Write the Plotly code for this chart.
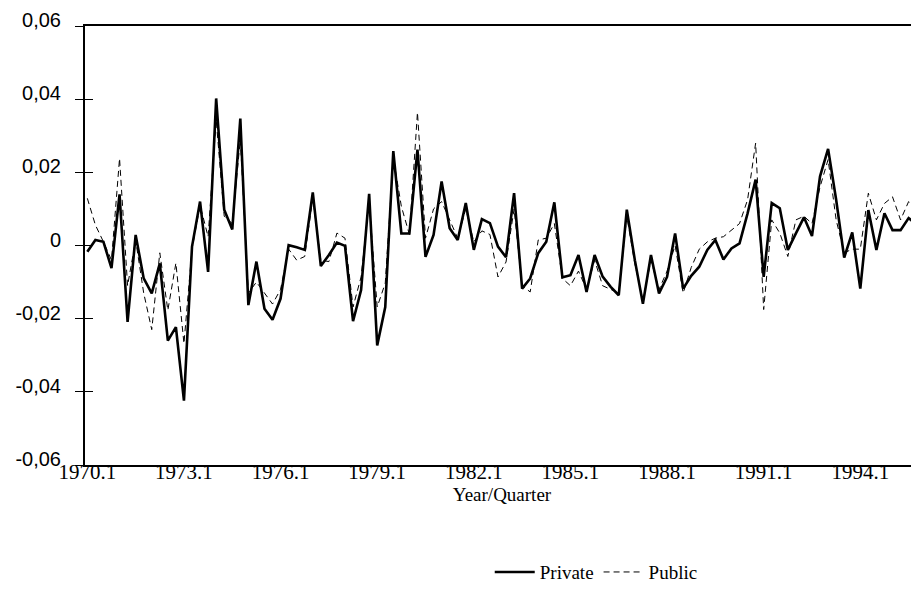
import plotly.graph_objects as go

quarters = list(range(105))  # 0 = 1970.1, quarterly observations

private = [
    -0.0017, 0.0015, 0.0010, -0.0062, 0.0140, -0.0209, 0.0029, -0.0090, -0.0131, -0.0049,
    -0.0260, -0.0223, -0.0424, -0.0003, 0.0120, -0.0072, 0.0402, 0.0098, 0.0044, 0.0347,
    -0.0163, -0.0044, -0.0173, -0.0203, -0.0145, 0.0001, -0.0005, -0.0012, 0.0145, -0.0056,
    -0.0026, 0.0008, -0.0001, -0.0207, -0.0122, 0.0141, -0.0273, -0.0168, 0.0258, 0.0033,
    0.0033, 0.0262, -0.0031, 0.0029, 0.0175, 0.0047, 0.0015, 0.0116, -0.0012, 0.0072,
    0.0061, -0.0003, -0.0032, 0.0143, -0.0118, -0.0090, -0.0021, 0.0010, 0.0118, -0.0087,
    -0.0081, -0.0026, -0.0127, -0.0026, -0.0085, -0.0113, -0.0136, 0.0098, -0.0040, -0.0159,
    -0.0026, -0.0131, -0.0086, 0.0033, -0.0118, -0.0083, -0.0058, -0.0012, 0.0015, -0.0038,
    -0.0008, 0.0006, 0.0088, 0.0180, -0.0086, 0.0116, 0.0102, -0.0012, 0.0033, 0.0077,
    0.0026, 0.0189, 0.0264, 0.0125, -0.0033, 0.0036, -0.0118, 0.0097, -0.0012, 0.0088,
    0.0042, 0.0042, 0.0075, 0.0057, 0.0005,
]

public = [
    0.0129, 0.0056, 0.0010, -0.0040, 0.0238, -0.0110, 0.0015, -0.0130, -0.0230, -0.0020,
    -0.0177, -0.0048, -0.0268, -0.0010, 0.0110, 0.0024, 0.0345, 0.0080, 0.0060, 0.0290,
    -0.0130, -0.0100, -0.0130, -0.0160, -0.0120, -0.0010, -0.0040, -0.0030, 0.0130, -0.0040,
    -0.0044, 0.0034, 0.0020, -0.0168, -0.0086, 0.0120, -0.0168, -0.0103, 0.0240, 0.0107,
    0.0030, 0.0364, 0.0020, 0.0100, 0.0120, 0.0070, 0.0020, 0.0100, 0.0010, 0.0040,
    0.0030, -0.0086, -0.0045, 0.0100, -0.0110, -0.0127, 0.0015, 0.0020, 0.0060, -0.0090,
    -0.0110, -0.0070, -0.0120, -0.0040, -0.0110, -0.0120, -0.0130, 0.0080, -0.0050, -0.0150,
    -0.0040, -0.0120, -0.0070, 0.0000, -0.0130, -0.0060, -0.0010, 0.0010, 0.0020, 0.0024,
    0.0043, 0.0060, 0.0125, 0.0280, -0.0175, 0.0070, 0.0034, -0.0030, 0.0070, 0.0080,
    0.0060, 0.0160, 0.0235, 0.0070, -0.0020, -0.0010, -0.0010, 0.0143, 0.0070, 0.0115,
    0.0133, 0.0070, 0.0120, 0.0100, 0.0050,
]

x_tick_vals = [0, 12, 24, 36, 48, 60, 72, 84, 96]
x_tick_text = ["1970.1", "1973.1", "1976.1", "1979.1", "1982.1",
               "1985.1", "1988.1", "1991.1", "1994.1"]
y_tick_vals = [-0.06, -0.04, -0.02, 0.0, 0.02, 0.04, 0.06]
y_tick_text = ["-0,06", "-0,04", "-0,02", "0", "0,02", "0,04", "0,06"]

fig = go.Figure()
fig.add_trace(go.Scatter(
    x=quarters, y=private, mode="lines", name="Private",
    line=dict(color="black", width=2.6),
))
fig.add_trace(go.Scatter(
    x=quarters, y=public, mode="lines", name="Public",
    line=dict(color="black", width=1, dash="6px,4px"),
))
# empty helper trace so the overlaid axis (inner tick marks) is drawn
fig.add_trace(go.Scatter(
    x=[None], y=[None], yaxis="y2", mode="lines",
    showlegend=False, hoverinfo="skip",
))

# page body adds an 8px offset; figure size/margins compensate for it
fig.update_layout(
    width=911, height=592,
    margin=dict(l=77, r=0, t=18, b=135, autoexpand=False),
    paper_bgcolor="white", plot_bgcolor="white",
    showlegend=True,
    legend=dict(
        orientation="h", x=0.613, xanchor="center", y=-0.244, yanchor="middle",
        font=dict(family="Liberation Serif", size=19, color="black"),
        bgcolor="rgba(0,0,0,0)", itemwidth=40,
    ),
    xaxis=dict(
        range=[-0.29, 103.29], automargin=False,
        tickvals=x_tick_vals, ticktext=x_tick_text,
        ticks="", showgrid=False, zeroline=False,
        ticklabelstandoff=-13, ticklabeloverflow="allow",
        showline=True, linecolor="black", linewidth=2, mirror=True,
        tickfont=dict(family="Liberation Serif", size=21, color="black"),
        title=dict(text="Year/Quarter", standoff=0,
                   font=dict(family="Liberation Serif", size=19, color="black")),
    ),
    yaxis=dict(
        range=[-0.06, 0.06], automargin=False,
        tickvals=y_tick_vals, ticktext=y_tick_text,
        ticks="outside", ticklen=8, tickwidth=1, tickcolor="black",
        ticklabelstandoff=10, ticklabelshift=-6, ticklabeloverflow="allow",
        showgrid=False, zeroline=False,
        showline=True, linecolor="black", linewidth=2, mirror=True,
        tickfont=dict(family="Liberation Sans", size=20, color="black"),
    ),
    yaxis2=dict(
        range=[-0.06, 0.06], overlaying="y", side="left", automargin=False,
        tickvals=y_tick_vals, showticklabels=False,
        ticks="inside", ticklen=8, tickwidth=1, tickcolor="black",
        showgrid=False, zeroline=False, showline=False,
    ),
)

fig.write_html("out.html")
